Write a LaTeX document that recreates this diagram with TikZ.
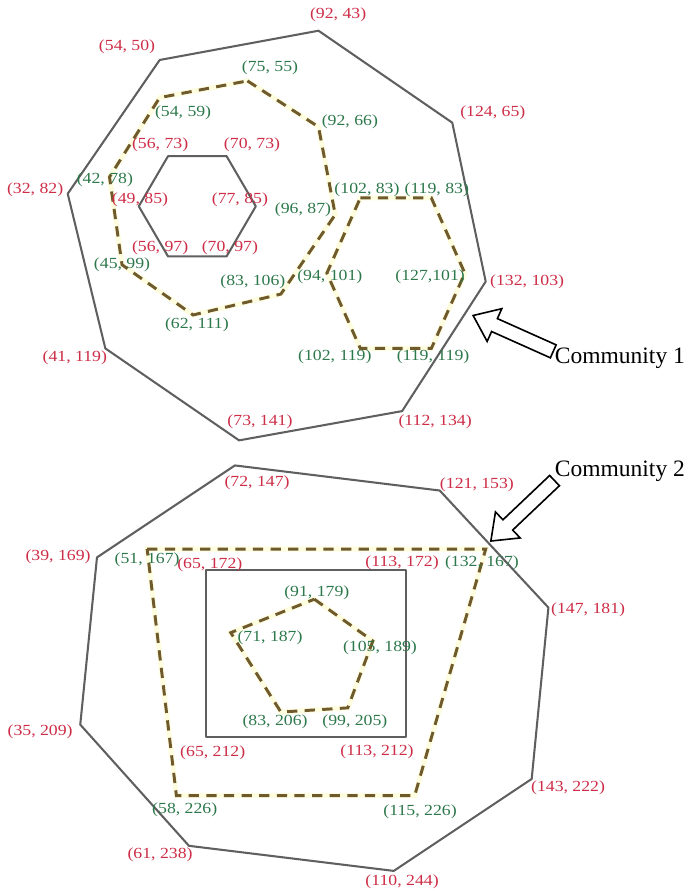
\documentclass[tikz,border=0pt]{standalone}
\usepackage{fontspec}
\setmainfont{Liberation Serif}
\usetikzlibrary{shapes.arrows}
\definecolor{vred}{RGB}{205,45,70}
\definecolor{vgreen}{RGB}{45,120,75}
\definecolor{edgegray}{RGB}{95,95,95}
\definecolor{dashgold}{RGB}{110,90,45}
\tikzstyle{rlab}=[text=vred, font=\fontsize{10.5}{12}\selectfont, inner sep=0pt, xscale=1.15]
\tikzstyle{glab}=[rlab, text=vgreen]
\tikzstyle{hull}=[draw=edgegray, line width=1.4pt, line join=round]
\tikzstyle{dashpoly}=[draw=dashgold, line width=2pt, dash pattern=on 7pt off 5pt,
  preaction={draw=yellow!12, line width=3.5pt, solid}]
\tikzstyle{ctxt}=[font=\fontsize{16}{18}\selectfont, inner sep=0pt]
\tikzstyle{harrow}=[single arrow, draw=black, fill=white, line width=1.1pt, inner xsep=0pt, inner ysep=1.5mm,
  minimum height=21mm, single arrow head extend=2.6mm, single arrow tip angle=75, single arrow head indent=0pt]

\begin{document}
\begin{tikzpicture}[x=1mm, y=-1mm]
    \useasboundingbox (15.8,35.65) rectangle (181.1,249.05);
    % community 1
    \coordinate (a1) at (54,50);
    \coordinate (a2) at (92,43);
    \coordinate (a3) at (124,65);
    \coordinate (a4) at (132,103);
    \coordinate (a5) at (112,134);
    \coordinate (a6) at (73,141);
    \coordinate (a7) at (41,119);
    \coordinate (a8) at (32,82);
    \coordinate (b1) at (75,55);
    \coordinate (b2) at (92,66);
    \coordinate (b3) at (96,87);
    \coordinate (b4) at (83,106);
    \coordinate (b5) at (62,111);
    \coordinate (b6) at (45,99);
    \coordinate (b7) at (42,78);
    \coordinate (b8) at (54,59);
    \coordinate (h1) at (56,73);
    \coordinate (h2) at (70,73);
    \coordinate (h3) at (77,85);
    \coordinate (h4) at (70,97);
    \coordinate (h5) at (56,97);
    \coordinate (h6) at (49,85);
    \coordinate (d1) at (102,83);
    \coordinate (d2) at (119,83);
    \coordinate (d3) at (127,101);
    \coordinate (d4) at (119,119);
    \coordinate (d5) at (102,119);
    \coordinate (d6) at (94,101);
    \draw[hull] (a1) -- (a2) -- (a3) -- (a4) -- (a5) -- (a6) -- (a7) -- (a8) -- cycle;
    \draw[hull] (h1) -- (h2) -- (h3) -- (h4) -- (h5) -- (h6) -- cycle;
    \draw[dashpoly] (b1) -- (b2) -- (b3) -- (b4) -- (b5) -- (b6) -- (b7) -- (b8) -- cycle;
    \draw[dashpoly] (d1) -- (d2) -- (d3) -- (d4) -- (d5) -- (d6) -- cycle;
    \node[rlab] (la1) at (46.2,46.9) {(54, 50)};
    \node[rlab] (la2) at (96.7,39.2) {(92, 43)};
    \node[rlab] (la3) at (133.7,62.7) {(124, 65)};
    \node[rlab] (la4) at (141.9,103.1) {(132, 103)};
    \node[rlab] (la5) at (119.9,136.6) {(112, 134)};
    \node[rlab] (la6) at (78.0,136.6) {(73, 141)};
    \node[rlab] (la7) at (33.7,121.3) {(41, 119)};
    \node[rlab] (la8) at (24.2,81.1) {(32, 82)};
    \node[rlab] (lh1) at (54.1,70.3) {(56, 73)};
    \node[rlab] (lh2) at (76.1,70.3) {(70, 73)};
    \node[rlab] (lh3) at (73.2,83.5) {(77, 85)};
    \node[rlab] (lh4) at (70.8,95.0) {(70, 97)};
    \node[rlab] (lh5) at (54.1,95.0) {(56, 97)};
    \node[rlab] (lh6) at (49.3,83.5) {(49, 85)};
    \node[glab] (lb1) at (80.4,51.9) {(75, 55)};
    \node[glab] (lb2) at (99.5,64.8) {(92, 66)};
    \node[glab] (lb3) at (88.3,85.9) {(96, 87)};
    \node[glab] (lb4) at (76.3,103.1) {(83, 106)};
    \node[glab] (lb5) at (62.9,113.4) {(62, 111)};
    \node[glab] (lb6) at (45.0,99.0) {(45, 99)};
    \node[glab] (lb7) at (40.9,78.7) {(42, 78)};
    \node[glab] (lb8) at (59.6,62.7) {(54, 59)};
    \node[glab] (ld1) at (103.6,81.1) {(102, 83)};
    \node[glab] (ld2) at (120.3,81.1) {(119, 83)};
    \node[glab] (ld3) at (118.7,101.9) {(127,101)};
    \node[glab] (ld4) at (119.4,121.1) {(119, 119)};
    \node[glab] (ld5) at (95.9,121.1) {(102, 119)};
    \node[glab] (ld6) at (94.7,101.9) {(94, 101)};
    \node[ctxt] (comm1) at (164.1,121.3) {Community 1};
    \coordinate (tip1) at (128.7,111.0);
    \node[harrow, rotate=155.9, anchor=tip] (arr1) at (tip1) {};
    % community 2
    \coordinate (e1) at (72,147);
    \coordinate (e2) at (121,153);
    \coordinate (e3) at (147,181);
    \coordinate (e4) at (143,222);
    \coordinate (e5) at (110,244);
    \coordinate (e6) at (61,238);
    \coordinate (e7) at (35,209);
    \coordinate (e8) at (39,169);
    \coordinate (q1) at (51,167);
    \coordinate (q2) at (132,167);
    \coordinate (q3) at (115,226);
    \coordinate (q4) at (58,226);
    \coordinate (r1) at (65,172);
    \coordinate (r2) at (113,172);
    \coordinate (r3) at (113,212);
    \coordinate (r4) at (65,212);
    \coordinate (f1) at (91,179);
    \coordinate (f2) at (105,189);
    \coordinate (f3) at (99,205);
    \coordinate (f4) at (83,206);
    \coordinate (f5) at (71,187);
    \draw[hull] (e1) -- (e2) -- (e3) -- (e4) -- (e5) -- (e6) -- (e7) -- (e8) -- cycle;
    \draw[hull] (r1) -- (r2) -- (r3) -- (r4) -- cycle;
    \draw[dashpoly] (q1) -- (q2) -- (q3) -- (q4) -- cycle;
    \draw[dashpoly] (f1) -- (f2) -- (f3) -- (f4) -- (f5) -- cycle;
    \node[rlab] (le1) at (77.3,151.2) {(72, 147)};
    \node[rlab] (le2) at (129.9,151.7) {(121, 153)};
    \node[rlab] (le3) at (156.5,181.6) {(147, 181)};
    \node[rlab] (le4) at (151.7,224.2) {(143, 222)};
    \node[rlab] (le5) at (112.0,246.7) {(110, 244)};
    \node[rlab] (le6) at (54.1,240.2) {(61, 238)};
    \node[rlab] (le7) at (25.4,210.8) {(35, 209)};
    \node[rlab] (le8) at (29.7,168.9) {(39, 169)};
    \node[rlab] (lr1) at (66.0,170.8) {(65, 172)};
    \node[rlab] (lr2) at (112.0,170.3) {(113, 172)};
    \node[rlab] (lr3) at (106.0,215.6) {(113, 212)};
    \node[rlab] (lr4) at (66.7,215.8) {(65, 212)};
    \node[glab] (lq1) at (51.0,169.6) {(51, 167)};
    \node[glab] (lq2) at (131.1,170.3) {(132, 167)};
    \node[glab] (lq3) at (116.3,229.9) {(115, 226)};
    \node[glab] (lq4) at (60.0,229.4) {(58, 226)};
    \node[glab] (lf1) at (91.6,177.5) {(91, 179)};
    \node[glab] (lf2) at (106.7,190.7) {(105, 189)};
    \node[glab] (lf3) at (100.7,208.4) {(99, 205)};
    \node[glab] (lf4) at (81.6,208.4) {(83, 206)};
    \node[glab] (lf5) at (80.4,188.3) {(71, 187)};
    \node[ctxt] (comm2) at (164.1,148.3) {Community 2};
    \coordinate (tip2) at (133.0,165.3);
    \node[harrow, rotate=223.5, anchor=tip] (arr2) at (tip2) {};
\end{tikzpicture}
\end{document}
